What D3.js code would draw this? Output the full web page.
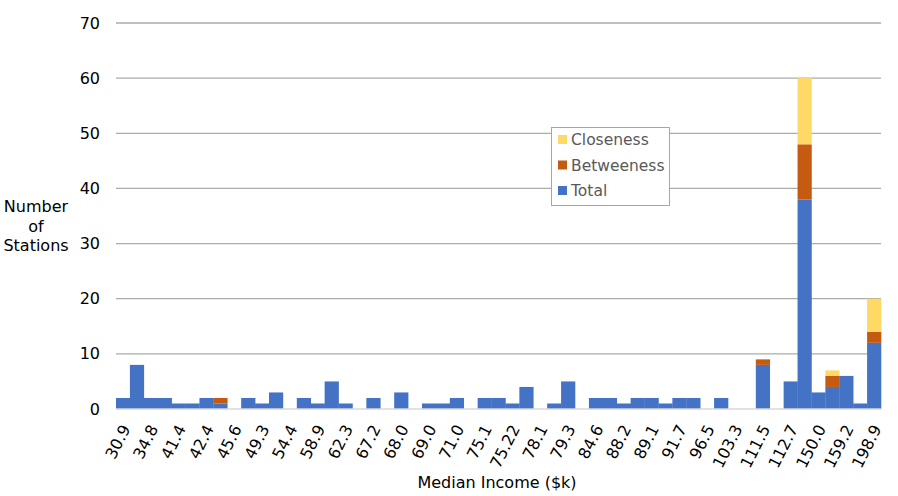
<!DOCTYPE html>
<html><head><meta charset="utf-8">
<script src="https://cdn.jsdelivr.net/npm/d3@7"></script>
<style>body{margin:0;background:#fff;} svg{display:block;font-family:"DejaVu Sans",Verdana,sans-serif;}</style>
</head><body><svg id="c" width="898" height="496"></svg>
<script>
const categories = ["30.9","c1","34.8","c3","41.4","c5","42.4","c7","45.6","c9","49.3","c11","54.4","c13","58.9","c15","62.3","c17","67.2","c19","68.0","c21","69.0","c23","71.0","c25","75.1","c27","75.22","c29","78.1","c31","79.3","c33","84.6","c35","88.2","c37","89.1","c39","91.7","c41","96.5","c43","103.3","c45","111.5","c47","112.7","c49","150.0","c51","159.2","c53","198.9"];
const total       = [2,8,2,2,1,1,2,1,0,2,1,3,0,2,1,5,1,0,2,0,3,0,1,1,2,0,2,2,1,4,0,1,5,0,2,2,1,2,2,1,2,2,0,2,0,0,8,0,5,38,3,4,6,1,12];
const betweeness  = [0,0,0,0,0,0,0,1,0,0,0,0,0,0,0,0,0,0,0,0,0,0,0,0,0,0,0,0,0,0,0,0,0,0,0,0,0,0,0,0,0,0,0,0,0,0,1,0,0,10,0,2,0,0,2];
const closeness   = [0,0,0,0,0,0,0,0,0,0,0,0,0,0,0,0,0,0,0,0,0,0,0,0,0,0,0,0,0,0,0,0,0,0,0,0,0,0,0,0,0,0,0,0,0,0,0,0,0,12,0,1,0,0,6];
const yTicks = [0,10,20,30,40,50,60,70];
const seriesNames = ["Total","Betweeness","Closeness"];
const colors = {"Total":"#4472C4","Betweeness":"#C55A11","Closeness":"#FFD966"};

const rows = categories.map((c,i)=>({cat:c, Total:total[i], Betweeness:betweeness[i], Closeness:closeness[i]}));
const stack = d3.stack().keys(seriesNames)(rows);

const svg = d3.select("#c");
const L=116, R=881, T=23, B=409;
const x = d3.scaleBand().domain(categories).range([L,R]).padding(0);
const y = d3.scaleLinear().domain([0,70]).range([B,T]);

svg.append("g").selectAll("line").data(yTicks.filter(d=>d>0)).join("line")
  .attr("x1",L).attr("x2",R).attr("y1",d=>y(d)).attr("y2",d=>y(d))
  .attr("stroke","#ababab").attr("stroke-width",1.3);

svg.append("g").selectAll("g").data(stack).join("g")
  .attr("fill",d=>colors[d.key])
  .selectAll("rect").data(d=>d).join("rect")
  .attr("x",d=>x(d.data.cat)).attr("width",x.bandwidth()+0.3)
  .attr("y",d=>y(d[1])).attr("height",d=>Math.max(0,y(d[0])-y(d[1])));

svg.append("line").attr("x1",L).attr("x2",R).attr("y1",B).attr("y2",B)
  .attr("stroke","#d9d9d9").attr("stroke-width",1.3);

const yAxis = d3.axisLeft(y).tickValues(yTicks).tickSize(0).tickPadding(16);
const gy = svg.append("g").attr("transform",`translate(${L},0)`).call(yAxis);
gy.select(".domain").remove();
gy.selectAll("text").attr("font-size",16).attr("fill","#000").attr("font-family","DejaVu Sans, Verdana, sans-serif");

const xAxis = d3.axisBottom(x).tickValues(categories.filter((c,i)=>i%2===0)).tickSize(0);
const gx = svg.append("g").attr("transform",`translate(0,${B})`).call(xAxis);
gx.select(".domain").remove();
gx.selectAll("text").attr("font-size",16).attr("fill","#000")
  .attr("font-family","DejaVu Sans, Verdana, sans-serif")
  .attr("text-anchor","end").attr("dy",0).attr("y",0)
  .attr("transform","translate(3,17) rotate(-63)")
  .attr("dominant-baseline","central");

svg.append("text").attr("x",497).attr("y",488).attr("text-anchor","middle")
  .attr("font-size",16).attr("fill","#000").text("Median Income ($k)");
const yt = svg.append("text").attr("text-anchor","middle").attr("font-size",16).attr("fill","#000");
["Number","of","Stations"].forEach((t,i)=>yt.append("tspan").attr("x",36).attr("y",212+i*19.5).text(t));

const lg = svg.append("g");
lg.append("rect").attr("x",551.5).attr("y",127.5).attr("width",118).attr("height",78)
  .attr("fill","#fff").attr("stroke","#a6a6a6").attr("stroke-width",1);
["Closeness","Betweeness","Total"].forEach((k,i)=>{
  const yy = 140 + i*25.5;
  lg.append("rect").attr("x",558).attr("y",yy-5).attr("width",9).attr("height",9).attr("fill",colors[k]);
  lg.append("text").attr("x",571).attr("y",yy).attr("dominant-baseline","central")
    .attr("font-size",15.5).attr("fill","#595959").text(k);
});
</script></body></html>
